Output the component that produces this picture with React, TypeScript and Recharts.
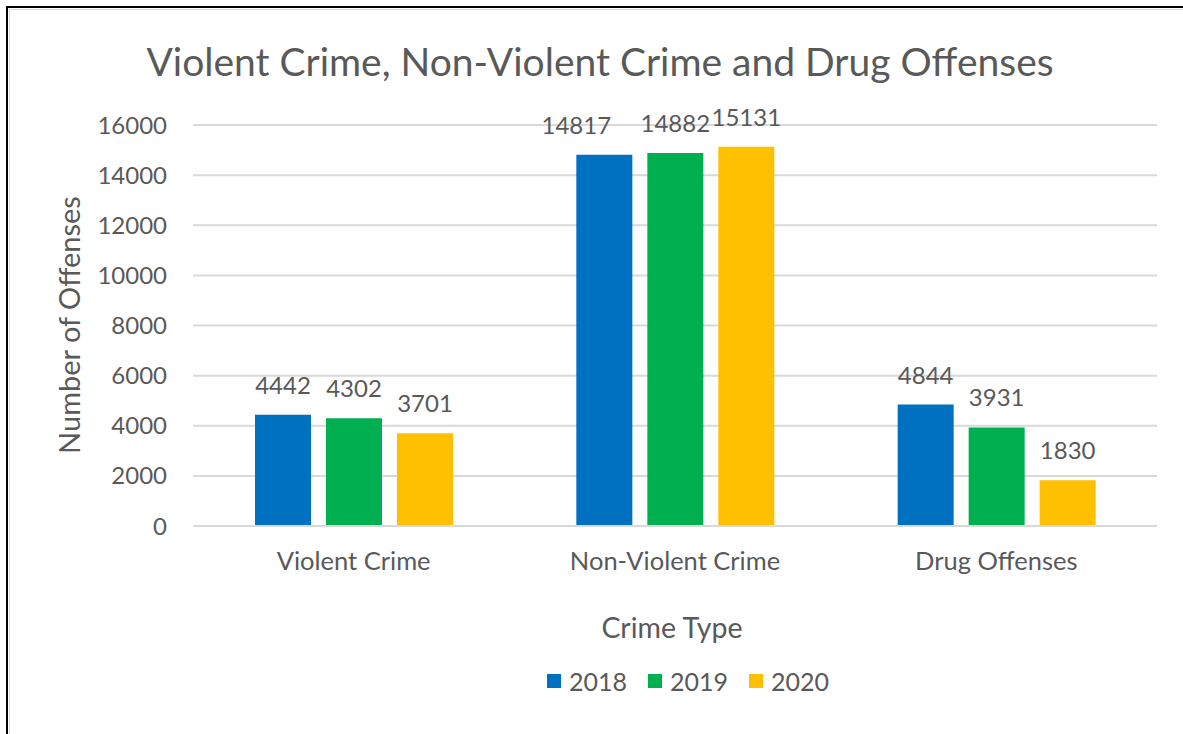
import React from 'react';
import { BarChart, Bar, XAxis, YAxis, CartesianGrid, LabelList } from 'recharts';

const categories = ['Violent Crime', 'Non-Violent Crime', 'Drug Offenses'];
const values2018 = [4442, 14817, 4844];
const values2019 = [4302, 14882, 3931];
const values2020 = [3701, 15131, 1830];
const yTicks = [0, 2000, 4000, 6000, 8000, 10000, 12000, 14000, 16000];
const seriesNames = ['2018', '2019', '2020'];
const seriesColors = ['#0070C0', '#00B050', '#FFC000'];
const seriesValues = [values2018, values2019, values2020];

const data = categories.map((c, i) => ({
  name: c,
  '2018': values2018[i],
  '2019': values2019[i],
  '2020': values2020[i],
}));

const FONT = 'Lato, "Open Sans", sans-serif';
const TEXT = '#595959';
const LABEL_SIZE = 24;
const BAR_GAP = 15;

// Excel-like collision avoidance: shift a label left if it would overlap the next series' label
const makeLabel = (seriesIdx: number) => (props: any) => {
  const { x, y, width, height, value, index } = props;
  const pxPerUnit = height / Math.max(value, 1);
  let dx = 0;
  const next = seriesValues[seriesIdx + 1];
  if (next) {
    const diffPx = Math.abs(next[index] - value) * pxPerUnit;
    const w1 = String(value).length * 0.58 * LABEL_SIZE;
    const w2 = String(next[index]).length * 0.58 * LABEL_SIZE;
    const overlapH = (w1 + w2) / 2 + 4 > width + BAR_GAP;
    if (diffPx < LABEL_SIZE * 0.2 && overlapH) dx = -width / 2;
  }
  return (
    <text
      x={x + width / 2 + dx}
      y={y - 21}
      textAnchor="middle"
      fill={TEXT}
      fontSize={LABEL_SIZE}
      fontFamily={FONT}
    >
      {value}
    </text>
  );
};

export default function App() {
  return (
    <div style={{ position: 'absolute', left: 0, top: 0, width: 1183, height: 734, background: '#fff', overflow: 'hidden' }}>
      <div style={{ position: 'absolute', left: 6, top: 6, width: 1200, height: 760, border: '2px solid #000', boxSizing: 'border-box' }}>
        <div style={{ position: 'absolute', left: 1, top: 1, right: 0, bottom: 0, border: '1px solid #d9d9d9' }} />
      </div>
      <div style={{ position: 'absolute', left: 0, top: 0 }}>
        <BarChart
          width={1183}
          height={734}
          data={data}
          margin={{ top: 125, right: 26, bottom: 178, left: 93 }}
          barGap={BAR_GAP}
          barSize={56}
        >
          <CartesianGrid vertical={false} stroke="#d9d9d9" strokeWidth={2} />
          <XAxis
            dataKey="name"
            axisLine={{ stroke: '#d9d9d9', strokeWidth: 2 }}
            tickLine={false}
            tickSize={0}
            tickMargin={26}
            tick={{ fill: TEXT, fontSize: 25.5, fontFamily: FONT }}
          />
          <YAxis
            width={100}
            domain={[0, 16000]}
            ticks={yTicks}
            axisLine={false}
            tickLine={false}
            tickSize={0}
            tickMargin={26}
            tick={{ fill: TEXT, fontSize: 24, fontFamily: FONT }}
          />
          {seriesNames.map((s, i) => (
            <Bar key={s} dataKey={s} fill={seriesColors[i]} isAnimationActive={false}>
              <LabelList dataKey={s} content={makeLabel(i)} />
            </Bar>
          ))}
        </BarChart>
      </div>
      <div style={{ position: 'absolute', left: 0, width: 1200, top: 38, textAlign: 'center', fontFamily: FONT, fontSize: 39, color: TEXT, whiteSpace: 'nowrap' }}>
        Violent Crime, Non-Violent Crime and Drug Offenses
      </div>
      <div style={{ position: 'absolute', left: 472, width: 400, top: 610, textAlign: 'center', fontFamily: FONT, fontSize: 28.5, color: TEXT }}>
        Crime Type
      </div>
      <div style={{ position: 'absolute', left: 68, top: 325, transform: 'translate(-50%, -50%) rotate(-90deg)', fontFamily: FONT, fontSize: 29, color: TEXT, whiteSpace: 'nowrap' }}>
        Number of Offenses
      </div>
      <div style={{ position: 'absolute', left: 388, width: 600, top: 666, display: 'flex', justifyContent: 'center', fontFamily: FONT, fontSize: 25, color: TEXT }}>
        {seriesNames.map((s, i) => (
          <div key={s} style={{ display: 'flex', alignItems: 'center', marginRight: i < seriesNames.length - 1 ? 21 : 0 }}>
            <div style={{ width: 14, height: 14, background: seriesColors[i], marginRight: 8 }} />
            <span>{s}</span>
          </div>
        ))}
      </div>
    </div>
  );
}
